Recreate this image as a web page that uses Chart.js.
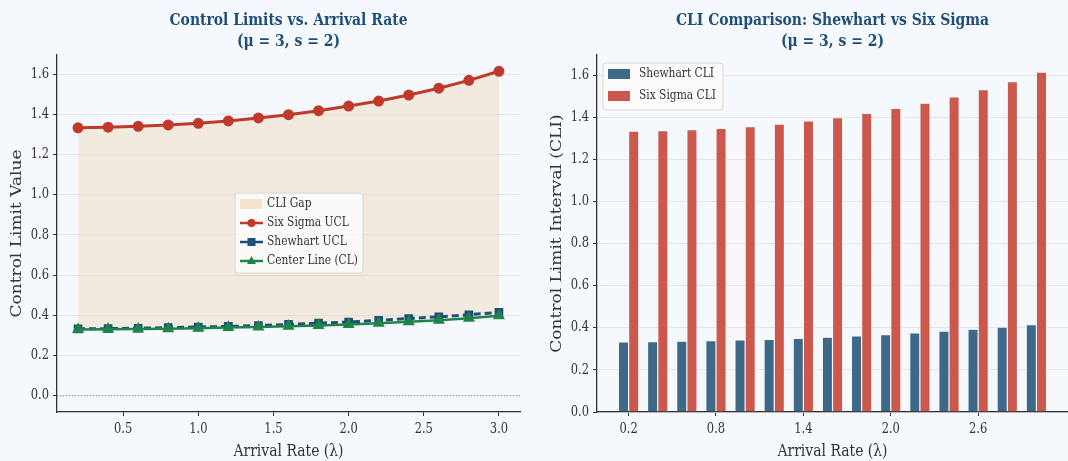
<!DOCTYPE html>
<html>
<head>
<meta charset="utf-8">
<script src="https://cdn.jsdelivr.net/npm/chart.js@4.4.1/dist/chart.umd.min.js"></script>
<style>
  html, body { margin: 0; padding: 0; background: #f5f8fc; }
  .panel { position: absolute; top: 0; width: 534px; height: 461px; }
</style>
</head>
<body>
<div class="panel" style="left:0"><canvas id="limits"></canvas></div>
<div class="panel" style="left:534px"><canvas id="cli"></canvas></div>
<script>
// data
const arrivalRates = [0.2, 0.4, 0.6, 0.8, 1.0, 1.2, 1.4, 1.6, 1.8, 2.0, 2.2, 2.4, 2.6, 2.8, 3.0];
const sixSigmaUCL = [1.333, 1.336, 1.340, 1.347, 1.355, 1.367, 1.382, 1.398, 1.418, 1.441, 1.466, 1.496, 1.530, 1.569, 1.614];
const shewhartUCL = [0.333, 0.334, 0.336, 0.339, 0.342, 0.345, 0.349, 0.355, 0.361, 0.367, 0.375, 0.384, 0.393, 0.403, 0.415];
const centerLine = [0.330, 0.331, 0.332, 0.334, 0.336, 0.339, 0.342, 0.346, 0.350, 0.355, 0.361, 0.368, 0.376, 0.386, 0.398];
const lineXTicks = [0.5, 1.0, 1.5, 2.0, 2.5, 3.0];
const barXTicks = [0.2, 0.8, 1.4, 2.0, 2.6];
const yTicks = [0.0, 0.2, 0.4, 0.6, 0.8, 1.0, 1.2, 1.4, 1.6];

const FONT = "'DejaVu Serif', serif";
const RED = '#c0392b', BLUE = '#1f4e79', GREEN = '#1e8449';
const INK = '#333333', GRID = '#e2e6ec';

// the reference figure is squeezed sideways: squash glyphs along screen x
const SQUEEZE = 0.82;
const rawFillText = CanvasRenderingContext2D.prototype.fillText;
CanvasRenderingContext2D.prototype.fillText = function (text, x, y, maxWidth) {
  const m = this.getTransform();
  const p = m.transformPoint(new DOMPoint(x, y));
  this.save();
  this.setTransform(new DOMMatrix().translate(p.x, p.y).scale(SQUEEZE, 1).translate(-p.x, -p.y).multiply(m));
  if (maxWidth === undefined) rawFillText.call(this, text, x, y);
  else rawFillText.call(this, text, x, y, maxWidth);
  this.restore();
};

Chart.defaults.font.family = FONT;
Chart.defaults.color = INK;

const pts = (ys) => arrivalRates.map((x, i) => ({ x, y: ys[i] }));

// title centred over the plot area (not the canvas)
const axesTitle = {
  id: 'axesTitle',
  afterDraw(chart, args, opts) {
    const { ctx, chartArea } = chart;
    const cx = (chartArea.left + chartArea.right) / 2;
    ctx.save();
    ctx.font = 'bold 17px ' + FONT;
    ctx.fillStyle = BLUE;
    ctx.textAlign = 'center';
    ctx.textBaseline = 'middle';
    opts.lines.forEach((t, i) => ctx.fillText(t, cx, 21 + i * 21));
    ctx.restore();
  }
};

// legend drawn inside the plot area, matplotlib-like
const boxLegend = {
  id: 'boxLegend',
  afterDraw(chart, args, opts) {
    const { ctx, chartArea } = chart;
    const x0 = chartArea.left + opts.dx, y0 = chartArea.top + opts.dy;
    ctx.save();
    ctx.fillStyle = 'rgba(252,252,252,0.85)';
    ctx.strokeStyle = '#d6d6d6';
    ctx.lineWidth = 1;
    ctx.beginPath();
    ctx.roundRect(x0, y0, opts.w, opts.h, 3);
    ctx.fill();
    ctx.stroke();
    ctx.font = '13px ' + FONT;
    ctx.textBaseline = 'middle';
    opts.items.forEach((it, i) => {
      const cy = y0 + opts.first + i * opts.step;
      const sx = x0 + 5;
      if (it.kind === 'patch') {
        ctx.fillStyle = it.color;
        ctx.fillRect(sx, cy - 5, 22, 10);
      } else {
        ctx.strokeStyle = it.color;
        ctx.lineWidth = 2.5;
        ctx.beginPath();
        ctx.moveTo(sx, cy);
        ctx.lineTo(sx + 23, cy);
        ctx.stroke();
        ctx.fillStyle = it.color;
        ctx.beginPath();
        const mx = sx + 11.5;
        if (it.marker === 'circle') ctx.arc(mx, cy, 4, 0, Math.PI * 2);
        else if (it.marker === 'rect') ctx.rect(mx - 4, cy - 4, 8, 8);
        else { ctx.moveTo(mx, cy - 5); ctx.lineTo(mx + 4.5, cy + 3); ctx.lineTo(mx - 4.5, cy + 3); ctx.closePath(); }
        ctx.fill();
      }
      ctx.fillStyle = INK;
      ctx.fillText(it.label, x0 + opts.textX, cy);
    });
    ctx.restore();
  }
};

// dotted zero reference line
const zeroLine = {
  id: 'zeroLine',
  beforeDatasetsDraw(chart) {
    const { ctx, chartArea, scales } = chart;
    const y = scales.y.getPixelForValue(0);
    ctx.save();
    ctx.strokeStyle = 'rgba(0,0,0,0.6)';
    ctx.lineWidth = 0.8;
    ctx.setLineDash([1, 2]);
    ctx.beginPath();
    ctx.moveTo(chartArea.left, y);
    ctx.lineTo(chartArea.right, y);
    ctx.stroke();
    ctx.restore();
  }
};

function yScale(width, title, titlePad) {
  return {
    type: 'linear',
    min: -0.0807,
    max: 1.695,
    afterFit: (s) => { s.width = width; },
    afterBuildTicks: (s) => { s.ticks = yTicks.map(v => ({ value: v })); },
    ticks: { padding: 4, font: { size: 14 }, color: INK, callback: (v) => v.toFixed(1) },
    grid: { color: GRID, lineWidth: 1, tickColor: INK, tickLength: 4 },
    border: { color: INK, width: 1.3 },
    title: { display: true, text: title, font: { size: 17 }, color: INK, padding: { top: titlePad } }
  };
}

function xScale(min, max, ticks) {
  return {
    type: 'linear',
    min, max,
    offset: false,
    afterFit: (s) => { s.height = 49; },
    afterBuildTicks: (s) => { s.ticks = ticks.map(v => ({ value: v })); },
    ticks: { padding: 5, font: { size: 14 }, color: INK, maxRotation: 0, callback: (v) => v.toFixed(1) },
    grid: { offset: false, drawOnChartArea: false, tickColor: INK, tickLength: 4 },
    border: { color: INK, width: 1.3 },
    title: { display: true, text: 'Arrival Rate (λ)', font: { size: 17, lineHeight: 1.1 }, color: INK, padding: { top: 0, bottom: 0 } }
  };
}

new Chart(document.getElementById('limits'), {
  type: 'line',
  data: {
    datasets: [
      {
        label: 'Six Sigma UCL',
        data: pts(sixSigmaUCL),
        borderColor: RED, backgroundColor: 'rgba(235,202,155,0.3)',
        pointBackgroundColor: RED, pointBorderColor: RED,
        borderWidth: 3, pointRadius: 4, pointStyle: 'circle',
        fill: { target: 1 }, order: 2
      },
      {
        label: 'Shewhart UCL',
        data: pts(shewhartUCL),
        borderColor: BLUE, backgroundColor: BLUE,
        borderWidth: 3, borderDash: [7, 4],
        pointRadius: 4, pointStyle: 'rect', order: 1
      },
      {
        label: 'Center Line (CL)',
        data: pts(centerLine),
        borderColor: GREEN, backgroundColor: GREEN,
        borderWidth: 2.5, pointRadius: 4.5, pointStyle: 'triangle', order: 0
      }
    ]
  },
  options: {
    responsive: true,
    maintainAspectRatio: false,
    animation: false,
    layout: { padding: { top: 55, left: 0, right: 14, bottom: 0 } },
    scales: {
      x: xScale(0.06, 3.14, lineXTicks),
      y: yScale(57, 'Control Limit Value', 7)
    },
    plugins: {
      legend: { display: false },
      tooltip: { enabled: false },
      axesTitle: { lines: ['Control Limits vs. Arrival Rate', '(μ = 3, s = 2)'] },
      boxLegend: {
        dx: 178, dy: 138, w: 128, h: 80, first: 11, step: 19, textX: 32,
        items: [
          { label: 'CLI Gap', kind: 'patch', color: 'rgba(235,202,155,0.45)' },
          { label: 'Six Sigma UCL', kind: 'line', color: RED, marker: 'circle' },
          { label: 'Shewhart UCL', kind: 'line', color: BLUE, marker: 'rect' },
          { label: 'Center Line (CL)', kind: 'line', color: GREEN, marker: 'triangle' }
        ]
      }
    }
  },
  plugins: [zeroLine, boxLegend, axesTitle]
});

new Chart(document.getElementById('cli'), {
  type: 'bar',
  data: {
    datasets: [
      {
        label: 'Shewhart CLI',
        data: pts(shewhartUCL),
        backgroundColor: '#3d6887',
        borderColor: 'rgba(255,255,255,0.5)', borderWidth: 0.6
      },
      {
        label: 'Six Sigma CLI',
        data: pts(sixSigmaUCL),
        backgroundColor: '#cc584d',
        borderColor: 'rgba(255,255,255,0.5)', borderWidth: 0.6
      }
    ]
  },
  options: {
    responsive: true,
    maintainAspectRatio: false,
    animation: false,
    categoryPercentage: 0.7,
    barPercentage: 1.0,
    layout: { padding: { top: 55, left: 0, right: 0, bottom: 0 } },
    scales: {
      x: xScale(-0.017, 3.217, barXTicks),
      y: Object.assign(yScale(63, 'Control Limit Interval (CLI)', 13), { min: 0 })
    },
    plugins: {
      legend: { display: false },
      tooltip: { enabled: false },
      axesTitle: { lines: ['CLI Comparison: Shewhart vs Six Sigma', '(μ = 3, s = 2)'] },
      boxLegend: {
        dx: 6, dy: 8, w: 120, h: 47, first: 11, step: 22, textX: 36,
        items: [
          { label: 'Shewhart CLI', kind: 'patch', color: '#3d6887' },
          { label: 'Six Sigma CLI', kind: 'patch', color: '#cc584d' }
        ]
      }
    }
  },
  plugins: [boxLegend, axesTitle]
});
</script>
</body>
</html>
